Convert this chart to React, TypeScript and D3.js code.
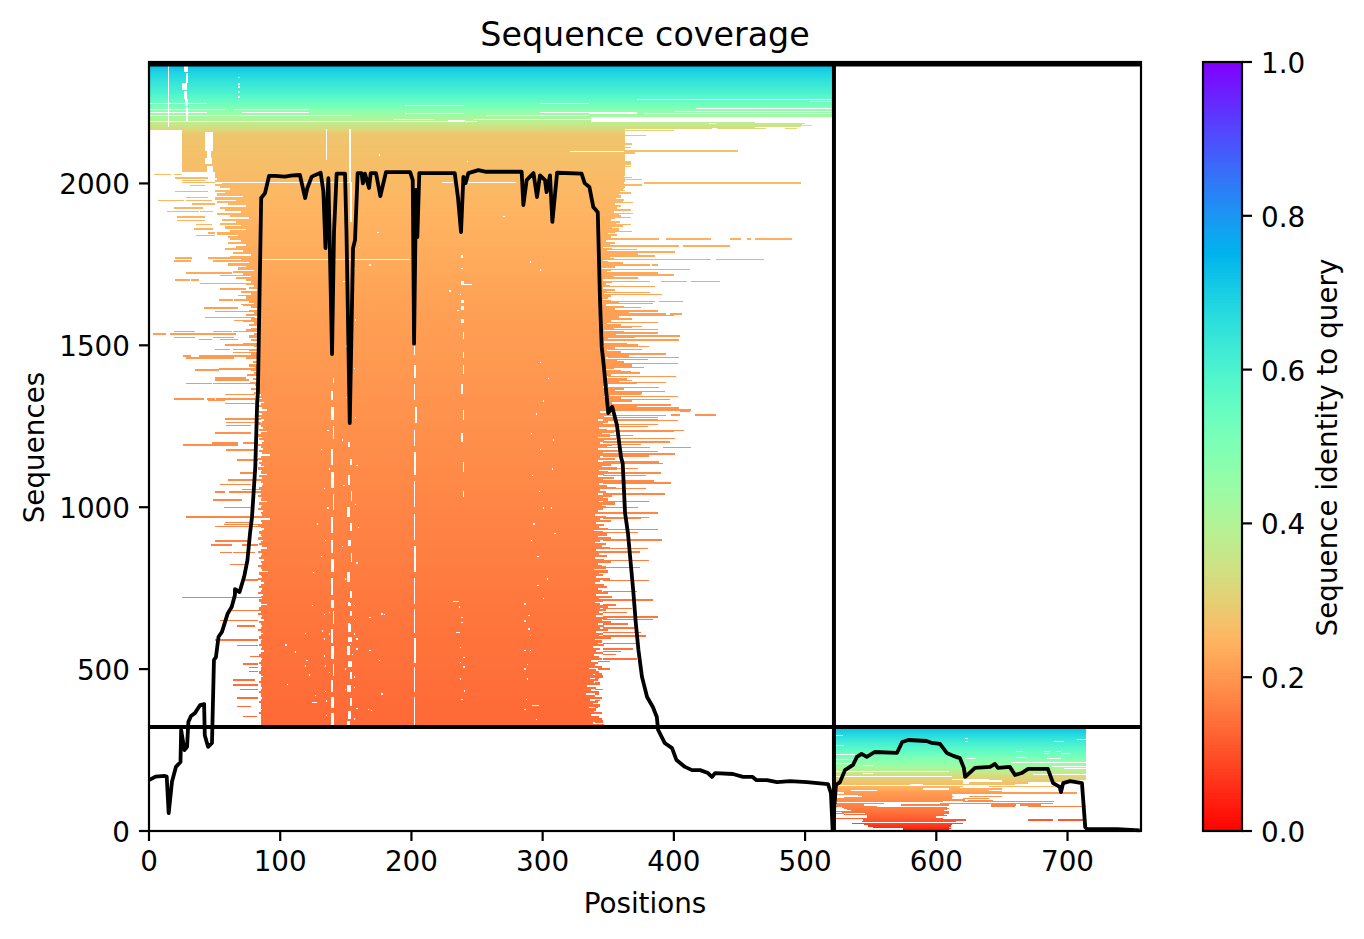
import React from "react";
import * as d3 from "d3";

const title = "Sequence coverage";
const xLabel = "Positions";
const yLabel = "Sequences";
const cLabel = "Sequence identity to query";
const xTicks = [0, 100, 200, 300, 400, 500, 600, 700];
const yTicks = [0, 500, 1000, 1500, 2000];
const cTicks = [0, 0.2, 0.4, 0.6, 0.8, 1.0];
const queryLength = 756;
const seqTop = 2375;
const lastSeq = 2367;
const boundaryPos = 522;
const boundarySeq = 321;

const covPos = [0, 5, 12, 13.5, 15, 17.5, 20.5, 24, 24.5, 27, 29, 30, 32, 35, 39, 42, 42.5, 45, 48, 49.5, 51, 53, 55.6, 60, 63, 65.5, 65.5, 69, 72.5, 75, 77, 78.5, 81, 82.5, 83, 84.6, 85.5, 88.4, 91.5, 96, 103.6, 108, 114, 115, 119, 120.7, 124, 130.8, 132.9, 134.5, 136.7, 139.5, 141, 143, 149.4, 150.5, 153, 155.5, 157, 159, 162, 163, 164.6, 167.7, 169, 173, 176.3, 180.6, 199, 201, 202, 203.5, 204.5, 206, 233, 235.5, 237.8, 239.6, 241.3, 243.4, 251, 257, 284, 285.3, 287.8, 293, 295.7, 298, 301.8, 303, 305.6, 307.4, 311, 329.7, 332, 335.6, 338.6, 342, 343.7, 345, 346.5, 350, 353, 356.6, 359.7, 361, 362.8, 365, 369, 371, 373, 375.7, 379.6, 384, 387, 388, 393, 398.6, 402, 408.5, 413.8, 420, 426, 429, 431.5, 445, 452.7, 460, 463, 471, 478.6, 488.5, 501.4, 517.5, 519.7, 521, 523.5, 526.6, 530.4, 536.5, 539.5, 543, 547, 553, 570, 574, 578.6, 592.6, 596.7, 602.8, 608, 613, 618, 621, 622, 629.5, 641, 644.7, 647, 656, 660, 665, 670, 685, 689, 694, 695, 696.7, 702, 711, 713.5, 715, 738, 755];
const covSeq = [157, 168, 170, 168, 55, 152, 198, 213, 312, 250, 260, 337, 355, 364, 389, 392, 296, 260, 272, 528, 537, 600, 615, 672, 692, 729, 747, 738, 785, 836, 920, 970, 1124, 1331, 1353, 1742, 1955, 1970, 2023, 2023, 2021, 2024, 2026, 2026, 1955, 1986, 2021, 2033, 1975, 1800, 2016, 1473, 1850, 2030, 2030, 1850, 1260, 1800, 1825, 2032, 2032, 2000, 2030, 1986, 2032, 2032, 1961, 2035, 2035, 2010, 1505, 1980, 1834, 2032, 2032, 1955, 1850, 2020, 2001, 2032, 2041, 2036, 2036, 1933, 2010, 2032, 1958, 2025, 2010, 1973, 2025, 1881, 2033, 2030, 2001, 1989, 1927, 1911, 1640, 1495, 1440, 1291, 1310, 1254, 1155, 1136, 982, 920, 744, 642, 559, 476, 414, 383, 352, 312, 272, 256, 219, 198, 188, 188, 179, 167, 179, 176, 167, 167, 157, 157, 151, 154, 151, 145, 117, 3, 142, 151, 188, 204, 229, 238, 229, 244, 241, 275, 281, 278, 272, 269, 241, 232, 225, 195, 167, 195, 198, 207, 195, 198, 173, 179, 192, 192, 148, 136, 120, 148, 154, 148, 12, 6, 6, 2];

// identity read row by row against the colour bar
const upperStopSeq = [323, 700, 1000, 1300, 1600, 2000, 2150, 2172, 2190, 2215, 2240, 2280, 2330, 2367];
const upperStopId = [0.135, 0.155, 0.175, 0.195, 0.215, 0.26, 0.28, 0.33, 0.38, 0.45, 0.52, 0.6, 0.67, 0.73];
const lowerStopSeq = [1, 30, 60, 120, 170, 200, 250, 300, 320];
const lowerStopId = [0.02, 0.1, 0.15, 0.21, 0.32, 0.44, 0.56, 0.68, 0.73];

// solid block edges, one entry per six rows going down from edgeStartSeq
const edgeStartSeq = 2035;
const edgeStep = 6;
const blockTopSeq = 2167;
const blockTopLeft = 25;
const blockTopRight = 363;
const coreLeft = [
  50, 50, 50, 52, 50, 56, 50, 54, 62, 50, 58, 52, 72, 50, 66, 52, 60, 74, 54, 58, 70, 52, 62, 76, 56, 66, 54, 70, 58, 74, 62, 52, 68, 60,
  62, 70, 60, 74, 66, 58, 72, 64, 78, 62, 70, 66, 76, 60, 74, 68, 80, 64, 72, 78, 66, 74,
  78, 74, 80, 76, 82, 70, 78, 80, 74, 82, 76, 80, 72, 78, 82, 76, 80, 74, 83, 78, 72, 80, 76, 82, 78, 74, 83, 80, 76, 82, 78, 83, 72, 80, 82, 76, 83, 78, 80, 74, 82, 79, 83, 76, 81, 78, 83, 80, 75, 82, 79, 83, 77, 81, 83, 78, 82, 80,
  85, 83, 86, 84, 88, 85, 82, 86, 90, 84, 86, 83, 85, 88, 86, 82, 85, 87, 84, 90, 85, 83, 86, 84, 88, 86, 83, 85, 87, 84, 86, 92, 85, 83, 86, 84, 85, 88, 83, 86, 85, 90, 84, 86, 83, 85, 87, 86, 84, 85,
  88, 85, 83, 86, 85, 90, 84, 86, 85, 83, 87, 85, 86, 84, 92, 85, 86, 83, 85, 88, 86, 84, 85, 86, 83, 87, 85, 84, 86, 90, 85, 83, 86, 85, 84, 88, 85, 86, 83, 85, 86, 91, 84, 85, 86, 83, 85, 88, 85, 84,
  86, 85, 83, 87, 85, 86, 84, 85, 90, 85, 84, 86, 85, 83, 86, 85, 88, 84, 85, 86, 85, 83, 85, 87, 85, 84, 86, 85, 85, 84, 86, 85, 88, 85, 84, 85, 86, 85, 84, 85, 86, 85, 85, 84, 85, 87, 85, 85, 84, 85,
  85, 86, 85, 84, 85, 85, 86, 85, 84, 85, 85, 85, 86, 85, 84, 85, 85, 85, 85, 85,
];
const coreRight = [
  363, 363, 362, 363, 363, 362, 360, 363, 361,
  359, 362, 358, 360, 356, 361, 359, 355, 360, 357, 362, 354, 358, 360, 355, 352, 359, 356, 361, 353, 358, 355, 350, 357, 352,
  352, 348, 355, 350, 346, 353, 349, 356, 347, 351, 354, 346, 350, 348, 355, 345, 352, 349, 347, 354, 350, 346, 353, 348, 351, 346, 355, 349, 347, 352, 350, 346,
  352, 358, 348, 362, 355, 350, 366, 347, 358, 364, 352, 349, 360, 368, 354, 347, 362, 356, 370, 350, 358, 347, 364, 372, 355, 349, 360, 352, 366, 348, 357, 362, 350, 368, 354, 347, 360, 374, 352, 349, 364, 358, 372, 350, 346, 362, 355, 376, 351, 347, 360, 368, 353, 348, 372, 356, 350,
  344, 352, 347, 356, 342, 350, 346, 358, 343, 349, 354, 345, 351, 342, 356, 347, 344, 353, 349, 342, 358, 346, 351, 344, 355, 342, 348, 352, 345, 357, 343, 350, 347, 342, 354, 346, 352, 343, 349, 356, 344, 348, 342, 353, 346, 350, 343, 355, 345, 348,
  346, 342, 350, 340, 348, 344, 352, 341, 347, 343, 350, 339, 346, 349, 342, 352, 344, 340, 348, 345, 351, 341, 346, 343, 349, 340, 347, 352, 342, 345, 348, 339, 350, 343, 346, 341, 351, 344, 340, 347, 349, 342, 345, 350, 341, 348, 343, 346, 340, 344,
  350, 344, 348, 343, 346, 341, 349, 345, 352, 342, 347, 344, 350, 341, 346, 343, 348, 340, 345, 342, 347, 338, 344, 341, 346, 339, 343, 345, 337, 342, 340, 345, 335, 341, 343, 338, 346, 336, 342, 339, 344, 334, 341, 337, 343, 333, 340, 345, 336, 342, 338, 344, 335, 341, 339, 345, 337, 343, 340, 346, 338, 344, 346,
];

// [seq, from position, to position] of single long alignments
const leftStrokes = [
  [2029, 4, 17], [2029, 19, 25], [2019, 20, 45], [2010, 25, 43], [2004, 25, 50], [1995, 31, 43], [1976, 20, 45], [1958, 28, 45], [1949, 7, 27], [1949, 28, 48], [1938, 33, 50], [1926, 19, 41], [1915, 14, 38], [1915, 39, 49], [1898, 21, 43], [1887, 21, 43], [1876, 36, 48], [1861, 34, 49], [1849, 45, 50], [1840, 36, 50],
  [1772, 20, 33], [1772, 45, 83], [1762, 19, 32], [1762, 49, 83], [1725, 28, 63], [1717, 54, 78], [1704, 20, 31], [1704, 32, 38], [1692, 39, 83], [1676, 54, 74], [1656, 68, 83], [1642, 53, 64], [1642, 65, 83], [1627, 70, 83], [1617, 42, 68], [1606, 50, 77], [1587, 43, 81], [1578, 65, 81], [1544, 19, 35], [1544, 49, 63], [1544, 64, 83], [1537, 3, 13], [1537, 16, 66], [1525, 19, 35], [1525, 49, 65], [1519, 38, 48], [1519, 54, 68], [1503, 58, 83], [1488, 50, 62], [1488, 64, 83], [1480, 64, 83], [1469, 26, 32], [1469, 38, 81], [1463, 28, 65], [1426, 35, 53], [1429, 53, 81], [1401, 50, 74], [1395, 50, 76], [1385, 28, 48], [1385, 49, 83], [1350, 58, 81], [1336, 19, 42], [1336, 44, 50], [1336, 51, 81],
  [1331, 45, 58], [1323, 58, 81], [1274, 58, 85], [1264, 59, 85], [1254, 59, 78], [1231, 50, 78], [1200, 48, 68], [1200, 72, 83], [1194, 26, 68], [1179, 59, 80], [1148, 67, 83], [1108, 69, 81], [1086, 60, 85], [1071, 54, 78], [1057, 71, 85], [1049, 50, 58], [1049, 61, 90], [1024, 49, 71], [1002, 57, 78], [972, 28, 92], [955, 58, 78], [948, 57, 83], [943, 50, 85], [898, 50, 76], [885, 47, 63], [885, 71, 83], [861, 54, 63], [861, 64, 81], [824, 62, 74], [777, 73, 83], [722, 25, 86], [684, 63, 86], [652, 54, 83], [635, 67, 81], [592, 50, 83], [574, 67, 83], [540, 77, 92], [518, 72, 83], [507, 76, 83], [495, 76, 83], [468, 64, 81], [453, 64, 83], [439, 69, 83], [413, 67, 83], [386, 67, 78], [355, 72, 82],
];
const rightStrokes = [
  [2149, 362, 379], [2124, 362, 368], [2112, 362, 367], [2102, 362, 449], [2096, 362, 370], [2068, 362, 367], [2062, 362, 367], [2054, 362, 367], [2021, 362, 368], [2013, 362, 376], [2003, 377, 497], [1997, 360, 376], [1987, 355, 362], [1980, 355, 363], [1972, 355, 367], [1951, 355, 362], [1944, 355, 369], [1934, 355, 360], [1920, 355, 367], [1908, 353, 369], [1897, 352, 367], [1875, 350, 367], [1853, 348, 368], [1830, 346, 389], [1830, 394, 428], [1830, 443, 451], [1830, 456, 459], [1830, 462, 490], [1815, 346, 351], [1809, 346, 404], [1809, 407, 443], [1797, 346, 372], [1790, 346, 401], [1784, 346, 373], [1778, 346, 386], [1766, 346, 428], [1766, 432, 469], [1756, 346, 361], [1750, 346, 382], [1750, 383, 388], [1735, 346, 412], [1725, 346, 388], [1719, 346, 400], [1710, 346, 373], [1698, 346, 382], [1698, 390, 410], [1698, 413, 435], [1683, 346, 386], [1664, 346, 382], [1658, 346, 391], [1637, 346, 386], [1637, 389, 407], [1630, 346, 384], [1618, 346, 375], [1608, 346, 388], [1599, 346, 394], [1599, 397, 406], [1593, 346, 400],
  [1583, 346, 368], [1572, 346, 388], [1561, 346, 376], [1550, 346, 388], [1540, 350, 388], [1531, 350, 405], [1520, 350, 404], [1516, 350, 404], [1503, 350, 373], [1498, 350, 381], [1490, 350, 376], [1475, 350, 394], [1465, 350, 404], [1458, 350, 380], [1445, 350, 403], [1434, 350, 377], [1422, 350, 367], [1405, 350, 402], [1393, 350, 368], [1388, 348, 394], [1372, 348, 389], [1360, 348, 393], [1352, 348, 375], [1345, 348, 403], [1334, 348, 397], [1318, 348, 398], [1308, 348, 404], [1302, 348, 413], [1286, 346, 394], [1280, 346, 388], [1271, 346, 388], [1287, 398, 405], [1299, 405, 412], [1287, 416, 432], [1278, 346, 380], [1269, 346, 403], [1257, 346, 388], [1251, 346, 380], [1240, 346, 408], [1235, 346, 400], [1224, 346, 369], [1214, 346, 401], [1203, 346, 397], [1195, 346, 375], [1186, 346, 382], [1186, 392, 413], [1173, 346, 388], [1166, 346, 401], [1160, 346, 381], [1142, 346, 389], [1136, 346, 392], [1122, 346, 373], [1108, 346, 390], [1100, 346, 379], [1083, 346, 385], [1077, 346, 398], [1059, 346, 379], [1043, 346, 393], [1019, 346, 381], [1000, 346, 373], [984, 346, 388], [971, 346, 381], [966, 346, 375], [932, 346, 388], [924, 346, 373], [901, 346, 391], [874, 346, 380], [864, 346, 374], [837, 346, 381], [816, 346, 374], [776, 346, 381],
  [741, 346, 372], [725, 346, 353], [715, 346, 384], [700, 346, 356], [690, 346, 368], [677, 346, 364], [663, 346, 388], [656, 346, 384], [641, 346, 365], [629, 346, 370], [615, 346, 375], [604, 346, 379], [598, 346, 352], [582, 346, 371], [564, 346, 369], [556, 346, 360], [548, 346, 356], [533, 346, 372], [525, 342, 351], [502, 342, 351], [487, 340, 345], [474, 340, 343], [461, 340, 344], [440, 340, 346], [425, 340, 343], [404, 340, 344], [384, 340, 342], [348, 340, 345], [338, 340, 346], [329, 340, 347],
];

// upper block and the rows just beneath it
const upperBands = [[lastSeq, 2190, 0, 522], [2190, 2174, 0, 462]];
const upperRows = [
  [2188, 462, 500], [2185, 462, 498], [2181, 462, 505], [2178, 462, 497], [2172, 0, 429], [2172, 433, 470], [2172, 485, 494], [2169, 0, 25], [2169, 28, 300], [2165, 28, 400],
];

// lower right block: bands and rows
const lowerBands = [[323, 169, 523, 714]];
const lowerRows = [
  [166, 523, 714], [161, 523, 612], [161, 640, 714], [156, 523, 620], [156, 650, 700], [150, 523, 620], [150, 625, 670], [145, 523, 580], [145, 590, 660], [140, 523, 620], [140, 640, 690], [136, 523, 618], [132, 523, 590], [132, 610, 650], [128, 523, 535], [128, 555, 640], [124, 523, 650], [119, 530, 707], [115, 523, 612], [111, 540, 612], [108, 543, 613], [108, 625, 650], [105, 530, 612], [102, 523, 612], [102, 620, 640], [99, 523, 622], [96, 523, 622], [96, 624, 643], [92, 523, 605], [92, 620, 690], [87, 523, 560], [87, 603, 689], [82, 524, 545], [82, 573, 610], [82, 642, 661], [82, 664, 680], [78, 523, 555], [78, 642, 660], [78, 670, 714], [74, 528, 608], [71, 530, 610], [68, 532, 608], [65, 535, 606], [62, 523, 610], [59, 528, 610], [55, 523, 530], [55, 546, 610], [52, 530, 606], [49, 547, 608], [45, 547, 600], [41, 523, 605], [36, 544, 623], [36, 670, 689], [36, 693, 712], [31, 543, 615], [26, 536, 550], [26, 550, 620], [22, 545, 612], [17, 548, 611], [13, 552, 610], [10, 575, 611], [7, 575, 610], [4, 575, 610], [1, 575, 610],
];

// white holes: [upper seq, lower seq, from position, to position]
const holes = [
  [2261, 2258, 372, 520], [2256, 2253, 503, 520], [2249, 2246, 298, 335], [2247, 2244, 0, 44], [2243, 2240, 195, 240], [2234, 2231, 417, 520], [2231, 2228, 0, 58], [2231, 2228, 65, 122], [2225, 2222, 401, 520], [2222, 2219, 0, 44], [2222, 2219, 71, 122], [2222, 2219, 298, 372], [2218, 2215, 195, 240], [2218, 2215, 335, 372], [2216, 2213, 377, 520], [2211, 2208, 0, 155], [2211, 2208, 257, 335], [2205, 2191, 337, 522], [2200, 2197, 187, 217], [2200, 2197, 248, 337], [2195, 2192, 228, 241], [2192, 2189, 0, 250],
  [2187, 2182, 427, 432], [2367, 2175, 14.8, 15.6], [2367, 2345, 27, 30], [2340, 2310, 28, 29.5], [2310, 2290, 25, 29], [2285, 2262, 27, 29], [2260, 2240, 27.5, 30], [2235, 2190, 28, 30], [2330, 2325, 68, 69], [2310, 2305, 68, 69], [2300, 2296, 68, 69], [2285, 2280, 68, 69], [2270, 2265, 68, 69],
  [2167, 2072, 134.6, 135.4], [2167, 2002, 152.8, 154.2], [2002, 1880, 153.4, 154.6], [2159, 2100, 42.7, 49], [2100, 2080, 44, 47], [2078, 2060, 43, 48], [2055, 2035, 44, 49], [2003, 2001, 56, 155], [2003, 2001, 223, 232], [2003, 2001, 238, 280], [2100, 2097, 321, 362], [1766, 1764, 87, 199], [1790, 1785, 137, 138], [1800, 1796, 203, 204],
  [1780, 1770, 238, 239], [1740, 1735, 238, 239], [1700, 1690, 238, 240], [1690, 1688, 238, 246], [1640, 1630, 238, 240], [1620, 1610, 238, 240], [1580, 1570, 238, 240], [1540, 1520, 239, 240], [1480, 1460, 239, 240], [1440, 1410, 239, 240], [1380, 1350, 238, 239], [1300, 1270, 239, 240], [1230, 1200, 238, 239], [1140, 1110, 239, 240], [1050, 1030, 239, 240],
  [1400, 1385, 140, 141], [1360, 1330, 139, 140], [1310, 1270, 139, 141], [1250, 1210, 140, 141], [1180, 1130, 139, 140], [1110, 1060, 139, 141], [1040, 990, 140, 141], [970, 920, 139, 140.5], [900, 860, 139, 140], [840, 800, 139, 141], [780, 730, 139, 140], [712, 690, 139, 141], [680, 640, 140, 141], [625, 585, 139, 140.5], [570, 530, 139, 141], [515, 480, 140, 141], [465, 430, 139, 140], [415, 380, 139, 141], [365, 325, 139, 141],
  [1200, 1185, 152, 153], [1150, 1130, 153, 155], [1100, 1070, 152, 153], [1050, 1020, 154, 155], [1000, 970, 151, 153], [950, 925, 153, 155], [900, 880, 152, 154], [860, 830, 154, 155], [800, 770, 151, 153], [740, 720, 153, 155], [705, 695, 152, 154], [680, 665, 153, 155], [640, 615, 152, 154], [600, 585, 152, 155], [570, 545, 151, 153], [525, 505, 152, 155], [490, 470, 153, 155], [450, 430, 151, 154], [410, 385, 153, 155], [370, 345, 152, 154], [340, 325, 151, 153],
  [1500, 1470, 202, 203], [1440, 1400, 202, 203.5], [1380, 1330, 202, 203], [1310, 1260, 203, 204], [1240, 1190, 202, 203], [1170, 1100, 202, 203.5], [1080, 1000, 202, 203], [980, 900, 202, 203], [880, 800, 202, 203.5], [780, 700, 202, 203], [685, 610, 202, 203], [595, 520, 202, 203.5], [505, 430, 202, 203], [415, 325, 202, 203],
  [710, 707, 232, 236], [397, 394, 124, 128], [389, 386, 292, 297], [614, 611, 234, 237],
  [296, 295, 523, 529], [286, 285, 622, 624], [278, 277, 622, 624], [278, 277, 690, 697], [284, 283, 707, 714], [266, 265, 523, 530], [247, 246, 661, 666], [247, 246, 682, 687], [247, 246, 691, 695], [240, 239, 682, 687], [240, 239, 695, 702], [237, 235, 523, 538], [229, 227, 661, 669], [226, 224, 622, 630], [226, 224, 684, 695], [222, 220, 523, 538], [214, 211, 657, 714], [209, 207, 523, 538], [204, 202, 544, 552], [202, 200, 688, 714], [194, 192, 697, 714], [185, 183, 523, 610], [178, 176, 544, 552], [175, 173, 674, 714], [170, 168, 523, 612],
];

// single missing cells: [seq, position]
const dots = [
  [698, 124], [670, 133], [677, 137], [612, 119], [620, 131.5], [610, 137], [595, 133], [584, 139], [577, 104], [555, 111], [569, 139], [543, 133], [528, 120], [512, 119], [512, 134], [484, 122], [492, 137], [454, 105], [433, 134], [420, 126.5], [404, 135], [358, 135],
  [708, 152], [698, 156], [672, 153], [656, 156], [641, 152], [620, 153], [610, 156], [595, 158], [579, 153], [548, 154.4], [564, 158], [502, 149], [492, 154], [478, 156], [440, 149], [445, 156], [380, 158], [348, 156], [559, 168], [528, 175], [425, 177], [378, 167], [375, 169], [662, 168], [672, 177], [670, 179],
  [694, 236], [662, 238], [646, 238], [569, 237], [538, 239.5], [523, 237], [509, 239.5], [471, 237], [435, 240], [409, 238], [703, 286], [667, 289], [651, 286], [626, 289], [605, 290], [559, 286], [559, 290], [517, 288], [502, 286], [471, 288], [409, 287], [378, 286], [346, 295],
  [1100, 292], [1050, 297], [1000, 300], [950, 293], [900, 291], [850, 296], [1180, 298], [1230, 291], [1290, 295], [1330, 300], [1400, 304], [1450, 298], [1210, 308], [1120, 307], [1000, 306], [920, 309], [780, 303], [760, 296], [720, 300],
  [800, 125], [850, 131], [900, 134], [950, 128], [1000, 136], [1060, 133], [1120, 137], [1180, 131], [1240, 136], [780, 149], [830, 158], [880, 147], [940, 159], [1010, 157], [1070, 148], [1130, 158], [1210, 147], [1280, 157], [1340, 150], [1430, 156], [1500, 150], [1580, 157], [1700, 148], [1740, 156], [1750, 168], [1805, 160], [1850, 174], [1670, 229], [1660, 237], [1610, 235], [1900, 270], [2040, 280], [2070, 242], [2090, 175], [1760, 290], [1735, 298],
];

const rowHeight = 3;
const figW = 1364;
const figH = 939;
const axL = 149, axR = 1141, axT = 62, axB = 831;
const barL = 1203, barR = 1242;
const fontFamily = "'DejaVu Sans', sans-serif";
const tickSize = 27.8;

const x = d3.scaleLinear([0, queryLength], [axL, axR]);
const y = d3.scaleLinear([0, seqTop], [axB, axT]);
const c = d3.scaleLinear([0, 1], [axB, axT]);
const upperId = d3.scaleLinear(upperStopSeq, upperStopId).clamp(true);
const lowerId = d3.scaleLinear(lowerStopSeq, lowerStopId).clamp(true);

function rainbowR(v: number) {
  const t = 1 - v;
  const r = Math.min(1, Math.abs(2 * t - 0.5));
  const g = Math.sin(Math.PI * t);
  const b = Math.cos((Math.PI * t) / 2);
  return d3.rgb(r * 255, g * 255, b * 255).formatRgb();
}
const rowColour = (seq: number) =>
  rainbowR(seq > boundarySeq ? upperId(seq) : lowerId(seq));

type Span = { seq: number; from: number; to: number };

function allSpans(): Span[] {
  const out: Span[] = [];
  const band = (hi: number, lo: number, from: number, to: number) => {
    for (let s = hi; s > lo; s -= rowHeight) out.push({ seq: s, from, to });
  };
  upperBands.forEach(([hi, lo, a, b]) => band(hi, lo, a, b));
  lowerBands.forEach(([hi, lo, a, b]) => band(hi, lo, a, b));
  band(blockTopSeq, edgeStartSeq, blockTopLeft, blockTopRight);
  const floorSeq = boundarySeq + 2;
  for (let s = edgeStartSeq, i = 0; s > floorSeq; s -= edgeStep, i++) {
    const l = coreLeft[Math.min(i, coreLeft.length - 1)];
    const r = coreRight[Math.min(i, coreRight.length - 1)];
    band(s, Math.max(s - edgeStep, floorSeq), l, r);
  }
  [...upperRows, ...lowerRows, ...leftStrokes, ...rightStrokes].forEach(([s, a, b]) =>
    out.push({ seq: s, from: a, to: b })
  );
  return out;
}

export default function App() {
  const spans = allSpans();
  const line = d3
    .line<number>()
    .x((p) => x(p))
    .y((_, i) => y(covSeq[i]));
  const barRows = d3.range(0, 256);
  const common = { fontFamily, fill: "#000" };
  return (
    <svg
      width={figW}
      height={figH}
      viewBox={`0 0 ${figW} ${figH}`}
      style={{ position: "absolute", left: 0, top: 0, background: "#fff" }}
    >
      <g shapeRendering="crispEdges">
        {spans.map((s, i) => (
          <rect
            key={i}
            x={x(s.from)}
            width={x(s.to) - x(s.from)}
            y={y(s.seq)}
            height={y(0) - y(rowHeight) + 0.3}
            fill={rowColour(s.seq)}
          />
        ))}
        {holes.map(([hi, lo, a, b], i) => (
          <rect
            key={i}
            x={x(a)}
            width={Math.max(1, x(b) - x(a))}
            y={y(hi)}
            height={Math.max(1, y(lo) - y(hi))}
            fill="#fff"
          />
        ))}
        {dots.map(([s, p], i) => (
          <rect key={i} x={x(p)} width={1.3} y={y(s)} height={y(0) - y(rowHeight) + 0.4} fill="#fff" />
        ))}
      </g>
      <path d={line(covPos) ?? ""} fill="none" stroke="#000" strokeWidth={3.8} strokeLinejoin="round" />
      <line x1={x(boundaryPos)} x2={x(boundaryPos)} y1={axT} y2={axB} stroke="#000" strokeWidth={4} />
      <line x1={axL} x2={axR} y1={y(boundarySeq)} y2={y(boundarySeq)} stroke="#000" strokeWidth={4} />
      <line x1={axL} x2={axR} y1={y(lastSeq)} y2={y(lastSeq)} stroke="#000" strokeWidth={4} />
      <rect x={axL} y={axT} width={axR - axL} height={axB - axT} fill="none" stroke="#000" strokeWidth={2.2} />
      {xTicks.map((t) => (
        <g key={t}>
          <line x1={x(t)} x2={x(t)} y1={axB} y2={axB + 10} stroke="#000" strokeWidth={2.2} />
          <text x={x(t)} y={axB + 40} textAnchor="middle" fontSize={tickSize} {...common}>{t}</text>
        </g>
      ))}
      {yTicks.map((t) => (
        <g key={t}>
          <line x1={axL - 10} x2={axL} y1={y(t)} y2={y(t)} stroke="#000" strokeWidth={2.2} />
          <text x={axL - 19} y={y(t) + 11} textAnchor="end" fontSize={tickSize} {...common}>{t}</text>
        </g>
      ))}
      <text x={(axL + axR) / 2} y={46} textAnchor="middle" fontSize={33.3} {...common}>{title}</text>
      <text x={(axL + axR) / 2} y={913} textAnchor="middle" fontSize={tickSize} {...common}>{xLabel}</text>
      <text transform={`translate(44,${(axT + axB) / 2 + 1}) rotate(-90)`} textAnchor="middle" fontSize={tickSize} {...common}>{yLabel}</text>
      <g shapeRendering="crispEdges">
        {barRows.map((i) => (
          <rect key={i} x={barL} width={barR - barL} y={c((i + 1) / 256)} height={(axB - axT) / 256 + 1} fill={rainbowR((i + 0.5) / 256)} />
        ))}
      </g>
      <rect x={barL} y={axT} width={barR - barL} height={axB - axT} fill="none" stroke="#000" strokeWidth={2.2} />
      {cTicks.map((t) => (
        <g key={t}>
          <line x1={barR} x2={barR + 10} y1={c(t)} y2={c(t)} stroke="#000" strokeWidth={2.2} />
          <text x={barR + 19} y={c(t) + 11} fontSize={tickSize} {...common}>{t.toFixed(1)}</text>
        </g>
      ))}
      <text transform={`translate(1337,${(axT + axB) / 2 + 1}) rotate(-90)`} textAnchor="middle" fontSize={tickSize} {...common}>{cLabel}</text>
    </svg>
  );
}
